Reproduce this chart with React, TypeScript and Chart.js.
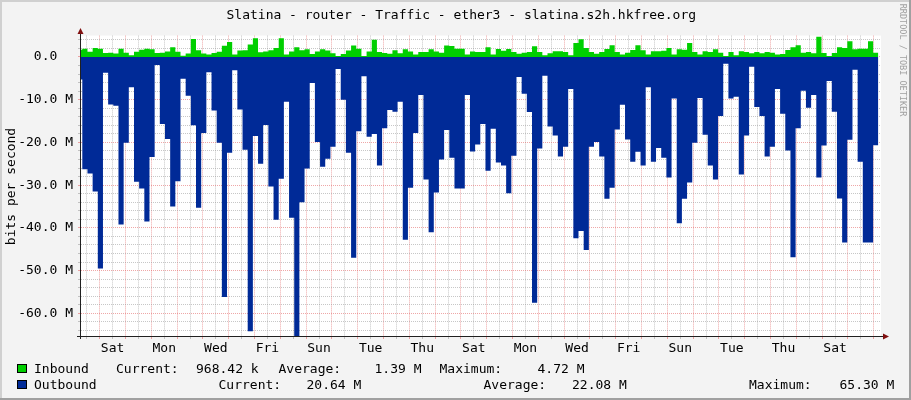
import React, { useEffect, useRef } from "react";
import { Chart, registerables } from "chart.js";

Chart.register(...registerables);

// ---------- texts ----------
const TITLE = "Slatina - router - Traffic - ether3 - slatina.s2h.hkfree.org";
const Y_TITLE = "bits per second";
const WATERMARK = "RRDTOOL / TOBI OETIKER";
const DAY_LABELS = ["Sat", "Mon", "Wed", "Fri", "Sun", "Tue", "Thu", "Sat", "Mon", "Wed", "Fri", "Sun", "Tue", "Thu", "Sat"];
const SERIES_NAMES = ["Inbound", "Outbound"];
const STAT_NAMES = ["Current:", "Average:", "Maximum:"];
const INBOUND_STATS = ["968.42 k", "1.39 M", "4.72 M"];
const OUTBOUND_STATS = ["20.64 M", "22.08 M", "65.30 M"];

// ---------- data (Mbit/s, one value per step) ----------
const INBOUND = [
  1.7, 1.9, 1.2, 2.1, 1.95, 0.9, 1.0, 0.8, 1.9, 1.0,
  0.4, 1.2, 1.7, 1.9, 1.8, 0.9, 1.0, 1.3, 2.3, 1.2,
  0.3, 0.8, 4.2, 1.6, 0.8, 0.55, 0.9, 1.2, 2.6, 3.5,
  0.55, 1.5, 1.55, 2.9, 4.4, 1.1, 1.3, 1.55, 2.1, 4.4,
  0.55, 1.3, 2.26, 1.6, 1.8, 0.7, 1.3, 1.8, 1.5, 0.86,
  0.23, 0.7, 1.5, 2.7, 1.95, 0.23, 1.3, 4.0, 1.17, 0.93,
  0.78, 1.6, 0.86, 1.8, 1.3, 0.55, 1.17, 1.17, 1.8, 1.3,
  1.0, 2.7, 2.57, 1.95, 1.95, 0.55, 1.3, 1.17, 1.17, 2.3,
  0.55, 1.87, 1.48, 1.87, 1.17, 0.78, 1.0, 1.17, 2.5, 1.17,
  0.39, 0.86, 1.32, 1.32, 1.17, 0.39, 3.27, 4.13, 2.1, 1.17,
  0.78, 1.17, 1.87, 2.73, 1.17, 0.55, 1.0, 1.64, 2.73, 1.56,
  0.55, 1.32, 1.32, 1.48, 2.1, 0.55, 1.8, 1.7, 3.27, 1.17,
  0.55, 1.32, 1.17, 1.8, 1.0, 0.23, 1.17, 0.39, 1.32, 1.17,
  0.86, 1.17, 0.86, 1.17, 1.0, 0.55, 0.7, 1.64, 2.26, 2.73,
  1.0, 1.17, 0.86, 4.72, 0.93, 0.23, 0.93, 2.26, 2.1, 3.66,
  1.8, 1.95, 1.95, 3.66, 0.97,
];

const OUTBOUND = [
  5.3, 26.3, 27.3, 31.5, 49.5, 3.7, 11.1, 11.4, 39.2, 20.1,
  7.1, 29.2, 30.8, 38.5, 23.4, 1.9, 15.7, 19.2, 35.0, 29.1,
  5.1, 9.1, 16.0, 35.3, 17.8, 3.6, 12.5, 20.1, 56.2, 22.4,
  3.1, 12.3, 21.7, 64.2, 18.5, 25.0, 15.9, 30.3, 38.1, 28.5,
  10.5, 37.6, 65.3, 34.0, 26.1, 6.1, 19.9, 25.7, 23.8, 21.0,
  2.8, 10.0, 22.4, 47.0, 17.4, 4.5, 18.7, 18.0, 25.4, 16.7,
  12.4, 12.8, 10.5, 42.8, 30.6, 17.8, 8.9, 28.7, 41.0, 31.7,
  24.0, 17.1, 23.6, 30.8, 30.8, 8.9, 22.1, 20.5, 15.7, 26.6,
  16.8, 24.7, 25.4, 31.9, 23.1, 4.7, 8.6, 12.9, 57.5, 21.4,
  4.4, 16.3, 18.4, 23.3, 21.0, 7.5, 42.4, 40.7, 45.2, 21.0,
  19.9, 23.3, 33.2, 30.6, 17.0, 11.2, 19.3, 24.5, 22.2, 25.4,
  7.1, 24.5, 21.3, 23.6, 28.2, 9.7, 38.9, 33.2, 29.4, 20.1,
  9.6, 18.2, 25.4, 28.7, 13.8, 1.6, 9.7, 9.3, 27.5, 18.4,
  2.3, 11.7, 13.8, 23.3, 21.0, 7.5, 13.3, 21.9, 46.9, 16.7,
  7.9, 11.9, 8.9, 28.2, 20.7, 5.6, 12.8, 33.1, 43.4, 19.4,
  3.0, 24.5, 43.4, 43.4, 20.64,
];

const Y_MIN = -65.3;
const Y_MAX = 5;
const STEP_MIN = 0.75;
const STEP_MAX = 155.52;
const DAY_MIN = -0.725;
const DAY_MAX = 30.28;

// ---------- styles ----------
const GREEN = "#00CF00";
const BLUE = "#002A97";
const BG = "#F3F3F3";
const MINOR = "rgba(144,144,144,0.5)";
const MAJOR = "rgba(224,80,80,0.5)";
const FONT = "'DejaVu Sans Mono', monospace";

function stepped(values: number[], sign: number) {
  const pts = values.map((v, i) => ({ x: i, y: sign * v }));
  pts.push({ x: values.length, y: sign * values[values.length - 1] });
  return pts;
}

const rrdPlugin = {
  id: "rrdLook",
  beforeDraw(chart: any) {
    const { ctx, chartArea: a, width, height } = chart;
    ctx.save();
    ctx.fillStyle = BG;
    ctx.fillRect(0, 0, width, height);
    ctx.fillStyle = "#D0D0D0";
    ctx.fillRect(0, 0, width, 2);
    ctx.fillRect(0, 0, 2, height);
    ctx.fillStyle = "#A0A0A0";
    ctx.fillRect(0, height - 2, width, 2);
    ctx.fillRect(width - 2, 0, 2, height);
    ctx.fillStyle = "#FFFFFF";
    ctx.fillRect(a.left, a.top, a.right - a.left, a.bottom - a.top);
    ctx.restore();
  },
  afterDraw(chart: any) {
    const { ctx, chartArea: a } = chart;
    ctx.save();
    // axes
    ctx.strokeStyle = "#202020";
    ctx.lineWidth = 1;
    ctx.beginPath();
    ctx.moveTo(a.left - 0.5, a.bottom + 3);
    ctx.lineTo(a.left - 0.5, 34);
    ctx.moveTo(a.left - 4, a.bottom + 0.5);
    ctx.lineTo(883, a.bottom + 0.5);
    ctx.stroke();
    ctx.fillStyle = "#801010";
    ctx.beginPath();
    ctx.moveTo(a.left - 0.5, 28);
    ctx.lineTo(a.left - 3.5, 34);
    ctx.lineTo(a.left + 2.5, 34);
    ctx.closePath();
    ctx.fill();
    ctx.beginPath();
    ctx.moveTo(889, a.bottom + 0.5);
    ctx.lineTo(883, a.bottom - 2.5);
    ctx.lineTo(883, a.bottom + 3.5);
    ctx.closePath();
    ctx.fill();

    // title
    ctx.fillStyle = "#000";
    ctx.font = `13px ${FONT}`;
    ctx.textAlign = "left";
    ctx.textBaseline = "alphabetic";
    ctx.fillText(TITLE, 226.5, 18.7);

    // y title
    ctx.save();
    ctx.translate(15, 186.5);
    ctx.rotate(-Math.PI / 2);
    ctx.textAlign = "center";
    ctx.fillText(Y_TITLE, 0, 0);
    ctx.restore();

    // watermark
    ctx.save();
    ctx.fillStyle = "#A0A0A0";
    ctx.font = `8.5px ${FONT}`;
    ctx.translate(899.5, 60);
    ctx.rotate(Math.PI / 2);
    ctx.textAlign = "center";
    ctx.fillText(WATERMARK, 0, 0);
    ctx.restore();

    // legend
    const rows = [
      { color: GREEN, base: 373, box: 364.5, stats: INBOUND_STATS, xs: [116, 196, 278.5, 374.5, 439.5, 537.5] },
      { color: BLUE, base: 389, box: 380.5, stats: OUTBOUND_STATS, xs: [218.5, 306.5, 483.5, 572, 749, 839.5] },
    ];
    rows.forEach((r, ri) => {
      ctx.fillStyle = r.color;
      ctx.fillRect(17.5, r.box, 9, 8);
      ctx.strokeStyle = "#000";
      ctx.lineWidth = 1;
      ctx.strokeRect(17.5, r.box, 9, 8);
      ctx.fillStyle = "#000";
      ctx.font = `13px ${FONT}`;
      ctx.fillText(SERIES_NAMES[ri], 34, r.base);
      for (let k = 0; k < 3; k++) {
        ctx.fillText(STAT_NAMES[k], r.xs[k * 2], r.base);
        ctx.fillText(r.stats[k], r.xs[k * 2 + 1], r.base);
      }
    });
    ctx.restore();
  },
};

export default function App() {
  const ref = useRef<HTMLCanvasElement | null>(null);

  useEffect(() => {
    if (!ref.current) return;
    const tickFont = { family: FONT, size: 13 };
    const chart = new Chart(ref.current, {
      type: "line",
      data: {
        datasets: [
          {
            label: SERIES_NAMES[0],
            data: stepped(INBOUND, 1),
            stepped: "before",
            fill: "origin",
            backgroundColor: GREEN,
            borderColor: "rgba(0,0,0,0)",
            borderWidth: 0,
            pointRadius: 0,
            xAxisID: "x",
            yAxisID: "y",
          },
          {
            label: SERIES_NAMES[1],
            data: stepped(OUTBOUND, -1),
            stepped: "before",
            fill: "origin",
            backgroundColor: BLUE,
            borderColor: "rgba(0,0,0,0)",
            borderWidth: 0,
            pointRadius: 0,
            xAxisID: "x",
            yAxisID: "y",
          },
        ],
      },
      options: {
        responsive: false,
        animation: false,
        devicePixelRatio: 1,
        events: [],
        layout: { padding: { left: 0, right: 30, top: 35.6, bottom: 44 } },
        plugins: { legend: { display: false }, tooltip: { enabled: false }, title: { display: false } },
        scales: {
          x: { type: "linear", display: false, min: STEP_MIN, max: STEP_MAX },
          xt: {
            type: "linear",
            position: "bottom",
            min: DAY_MIN,
            max: DAY_MAX,
            z: 1,
            afterFit: (s: any) => {
              s.height = 20;
            },
            border: { display: false, dash: [1, 1] },
            grid: {
              color: (c: any) => (c.tick && Math.abs(c.tick.value - Math.round(c.tick.value)) < 1e-6 ? MAJOR : MINOR),
              tickLength: 3,
              lineWidth: 1,
            },
            ticks: {
              stepSize: 0.5,
              includeBounds: false,
              autoSkip: false,
              maxRotation: 0,
              minRotation: 0,
              padding: 2,
              color: "#000",
              font: tickFont,
              callback: (v: any) => {
                const k = (Number(v) - 0.5) / 2;
                const r = Math.round(k);
                return Math.abs(k - r) < 1e-6 && r >= 0 && r < DAY_LABELS.length ? DAY_LABELS[r] : "";
              },
            },
          },
          y: {
            type: "linear",
            position: "left",
            min: Y_MIN,
            max: Y_MAX,
            z: 1,
            afterFit: (s: any) => {
              s.width = 81;
            },
            border: { display: false, dash: [1, 1] },
            grid: {
              color: (c: any) => (c.tick && Math.round(c.tick.value) % 10 === 0 ? MAJOR : MINOR),
              tickLength: 3,
              lineWidth: 1,
            },
            ticks: {
              stepSize: 2,
              includeBounds: false,
              autoSkip: false,
              padding: 5,
              color: "#000",
              font: tickFont,
              callback: (v: any) => {
                const n = Math.round(Number(v));
                if (n % 10 !== 0) return "";
                return n === 0 ? "0.0  " : `${n.toFixed(1)} M`;
              },
            },
          },
        },
      },
      plugins: [rrdPlugin],
    } as any);
    return () => chart.destroy();
  }, []);

  return (
    <div style={{ position: "absolute", left: 0, top: 0, width: 911, height: 400 }}>
      <canvas ref={ref} width={911} height={400} style={{ width: 911, height: 400, display: "block" }} />
    </div>
  );
}
